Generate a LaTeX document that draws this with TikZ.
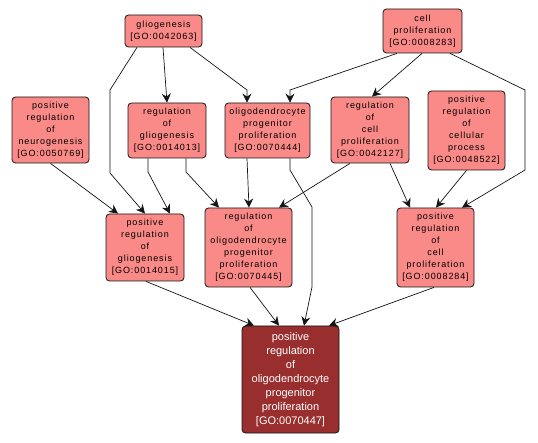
\documentclass[tikz,border=0pt]{standalone}
\usepackage{fontspec}
\setmainfont{Liberation Sans}
\newfontfamily\boxfont[LetterSpace=10]{Liberation Sans}
\usetikzlibrary{arrows.meta}
\definecolor{lightnode}{RGB}{250,138,136}
\definecolor{darknode}{RGB}{152,46,46}
\definecolor{edgecol}{RGB}{20,20,20}
\tikzset{
  gobox/.style={draw=edgecol, line width=0.8pt, rounded corners=3.5pt, fill=lightnode, align=center, inner sep=0pt,
     font=\boxfont\fontsize{9}{12}\selectfont, text=black},
  gotarget/.style={draw=edgecol, line width=0.8pt, rounded corners=3.5pt, fill=darknode, align=center, inner sep=0pt,
     font=\fontsize{11}{14}\selectfont, text=white},
  goedge/.style={draw=edgecol, line width=0.7pt, -{Stealth[length=9pt,width=9pt,inset=3pt]}},
}
\begin{document}
\begin{tikzpicture}[x=1pt,y=-1pt]
\useasboundingbox (0,0) rectangle (538,443);
\node[gobox, minimum width=77pt, minimum height=32pt] (glio) at (163.5,31) {gliogenesis\\{}[GO:0042063]};
\node[gobox, minimum width=79pt, minimum height=44pt] (cellprol) at (422.5,31) {cell\\proliferation\\{}[GO:0008283]};
\node[gobox, minimum width=77pt, minimum height=66pt] (prneuro) at (50.5,130) {positive\\regulation\\of\\neurogenesis\\{}[GO:0050769]};
\node[gobox, minimum width=78pt, minimum height=55pt] (regglio) at (167,130.5) {regulation\\of\\gliogenesis\\{}[GO:0014013]};
\node[gobox, minimum width=85pt, minimum height=55pt] (opc) at (267.5,130.5) {oligodendrocyte\\progenitor\\proliferation\\{}[GO:0070444]};
\node[gobox, minimum width=78pt, minimum height=66pt] (regcell) at (370,130) {regulation\\of\\cell\\proliferation\\{}[GO:0042127]};
\node[gobox, minimum width=77pt, minimum height=79pt] (prcellproc) at (466.5,130.5) {positive\\regulation\\of\\cellular\\process\\{}[GO:0048522]};
\node[gobox, minimum width=78pt, minimum height=67pt] (prglio) at (145,247.5) {positive\\regulation\\of\\gliogenesis\\{}[GO:0014015]};
\node[gobox, minimum width=87pt, minimum height=79pt] (regopc) at (248.5,247.5) {regulation\\of\\oligodendrocyte\\progenitor\\proliferation\\{}[GO:0070445]};
\node[gobox, minimum width=77pt, minimum height=79pt] (prcell) at (435.5,247.5) {positive\\regulation\\of\\cell\\proliferation\\{}[GO:0008284]};
\node[gotarget, minimum width=97pt, minimum height=107pt] (target) at (290.5,379.5) {positive\\regulation\\of\\oligodendrocyte\\progenitor\\proliferation\\{}[GO:0070447]};

\coordinate (b1) at (247,90);
\coordinate (b2a) at (110,90);
\coordinate (b2b) at (110,173);
\coordinate (b3) at (148,172);
\coordinate (b4) at (186,172);
\coordinate (b5a) at (290,170);
\coordinate (b5b) at (312,207);
\coordinate (b5c) at (312,287);
\coordinate (b6) at (290,90);
\coordinate (b7a) at (525,90);
\coordinate (b7b) at (525,170);

\draw[goedge] ([xshift=-0.5pt]glio.south) -- (regglio.north);
\draw[goedge] ([xshift=26.5pt]glio.south) -- (b1) -- ([xshift=-20.5pt]opc.north);
\draw[goedge] ([xshift=-26.5pt]glio.south) -- (b2a) -- (b2b) -- (prglio.north);
\draw[goedge] ([xshift=-19pt]regglio.south) -- (b3) -- ([xshift=25pt]prglio.north);
\draw[goedge] ([xshift=19pt]regglio.south) -- (b4) -- ([xshift=-29.5pt]regopc.north);
\draw[goedge] (prneuro.south) -- ([xshift=-27pt]prglio.north);
\draw[goedge] ([xshift=-20.5pt]opc.south) -- ([xshift=0.5pt]regopc.north);
\draw[goedge] ([xshift=22.5pt]opc.south) -- (b5a) -- (b5b) -- (b5c) -- ([xshift=13.5pt]target.north);
\draw[goedge] ([xshift=-25.5pt]cellprol.south) -- (b6) -- ([xshift=22.5pt]opc.north);
\draw[goedge] ([xshift=-0.5pt]cellprol.south) -- ([xshift=2pt]regcell.north);
\draw[goedge] ([xshift=27.5pt]cellprol.south) -- (b7a) -- (b7b) -- ([xshift=26.5pt]prcell.north);
\draw[goedge] ([xshift=-20pt]regcell.south) -- ([xshift=30.5pt]regopc.north);
\draw[goedge] ([xshift=20pt]regcell.south) -- ([xshift=-25.5pt]prcell.north);
\draw[goedge] (prcellproc.south) -- ([xshift=0.5pt]prcell.north);
\draw[goedge] ([xshift=1pt]prglio.south) -- ([xshift=-36.5pt]target.north);
\draw[goedge] ([xshift=1.5pt]regopc.south) -- ([xshift=-11.5pt]target.north);
\draw[goedge] ([xshift=-1.5pt]prcell.south) -- ([xshift=38.5pt]target.north);
\end{tikzpicture}
\end{document}
